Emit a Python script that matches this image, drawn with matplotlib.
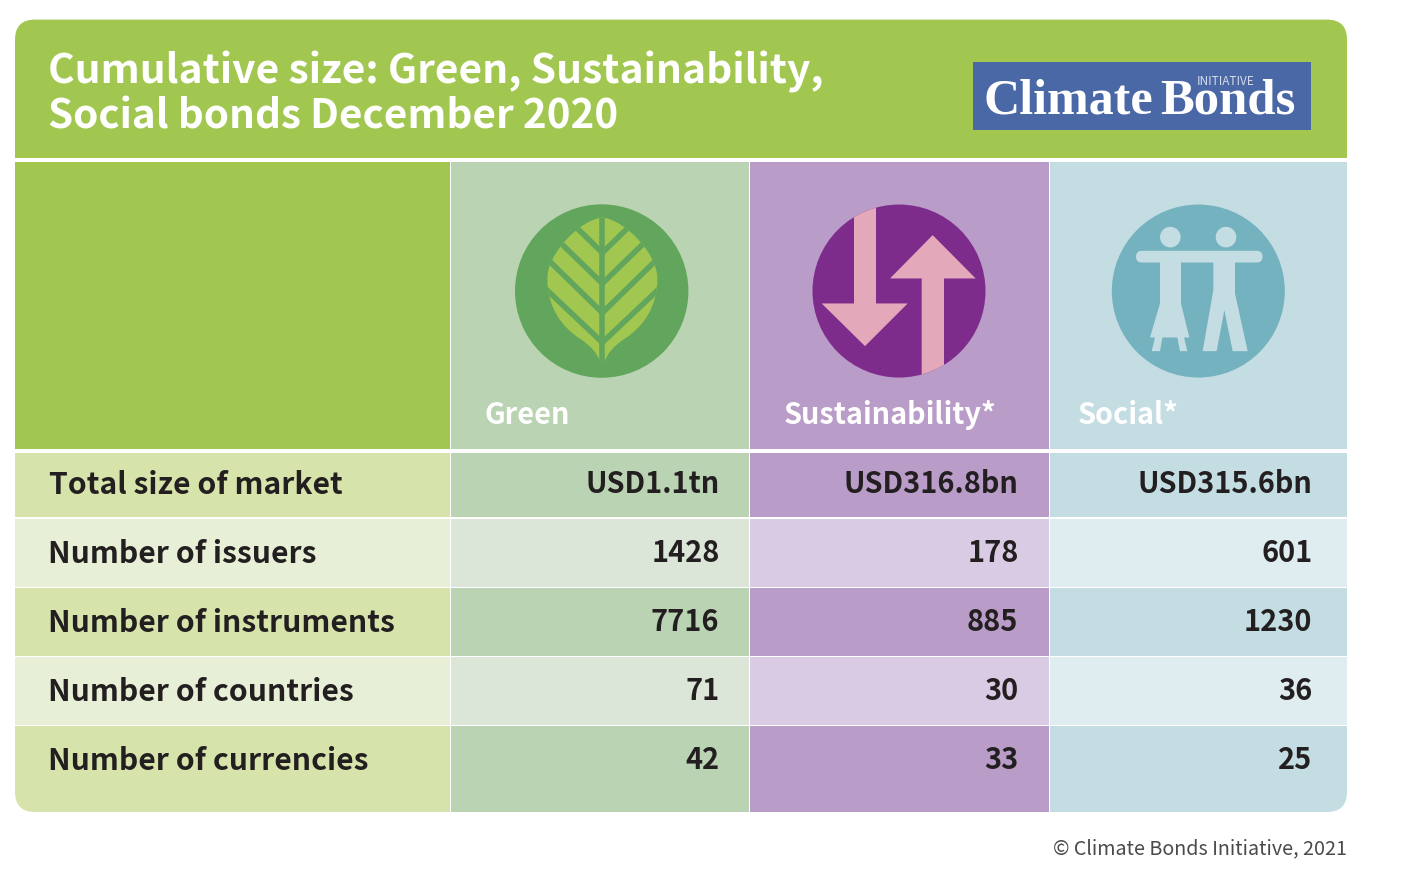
import matplotlib
matplotlib.use('Agg')
import matplotlib.pyplot as plt
from matplotlib.patches import Rectangle, Circle, Polygon, FancyBboxPatch, PathPatch
from matplotlib.path import Path

# ---------------------- Data ---------------------- #

title_lines = ['Cumulative size: Green, Sustainability,', 'Social bonds December 2020']
columns = ['Green', 'Sustainability*', 'Social*']
row_labels = ['Total size of market', 'Number of issuers', 'Number of instruments',
              'Number of countries', 'Number of currencies']
green_values = ['USD1.1tn', '1428', '7716', '71', '42']
sustainability_values = ['USD316.8bn', '178', '885', '30', '33']
social_values = ['USD315.6bn', '601', '1230', '36', '25']
source = '© Climate Bonds Initiative, 2021'

# ---------------------- Layout and colours ---------------------- #

col_edges = [(15, 449.5), (451.2, 748.5), (750, 1048.5), (1050, 1347)]
row_edges = [(452.5, 517.3), (519.2, 586.5), (588, 655.5), (657, 724.5), (726, 812)]
label_baseline = [494, 562.5, 631.5, 700.5, 769.5]
value_baseline = [492.6, 561.6, 630.6, 699.6, 768.6]
value_x = [719.5, 1018.5, 1312.5]
name_x = [484.5, 783.5, 1077.5]
label_x = [49, 47.5, 47.5, 47.5, 47.5]

LIME = '#A2C750'
dark_cols = ['#D6E4AB', '#BAD3B3', '#B99DC8', '#C4DDE2']
light_cols = ['#E7F0D6', '#DBE6D9', '#D9CBE3', '#DFEDF1']
TEXT = '#231F20'
FONT = ['Noto Sans CJK SC', 'DejaVu Sans']

fig = plt.figure(figsize=(14.01, 8.781), dpi=100, facecolor='white')
ax = fig.add_axes([0, 0, 1, 1])
ax.set_xlim(0, 1401)
ax.set_ylim(877.8, -0.2)
ax.axis('off')

# Everything in the card gets clipped to this rounded box
card = FancyBboxPatch((15, 19.5), 1332, 792.3, boxstyle='round,pad=0,rounding_size=20',
                      facecolor='none', edgecolor='none')
ax.add_patch(card)


def cell(x0, y0, x1, y1, color):
    r = Rectangle((x0, y0), x1 - x0, y1 - y0, facecolor=color, edgecolor='none')
    ax.add_patch(r)
    r.set_clip_path(card)


# ---------------------- Table ---------------------- #

cell(15, 19, 1347, 158, LIME)
cell(col_edges[0][0], 162, col_edges[0][1], 448.7, LIME)
for c in range(1, 4):
    cell(col_edges[c][0], 162, col_edges[c][1], 448.7, dark_cols[c])

for r, (y0, y1) in enumerate(row_edges):
    colors = dark_cols if r % 2 == 0 else light_cols
    for c, (x0, x1) in enumerate(col_edges):
        cell(x0, y0, x1, y1, colors[c])

# ---------------------- Icons ---------------------- #

def z(points, ox, oy):
    # icon shapes were measured on 3x crops
    return [(ox + px / 3, oy + py / 3) for px, py in points]


# Leaf
ax.add_patch(Circle((601.7, 290.9), 86.7, facecolor='#62A55C', edgecolor='none'))
o = (500, 190)
leaf_right = [(307, 82), (375, 90), (472, 190), (472, 265), (472, 350), (430, 410), (375, 445),
              (340, 468), (322, 490), (312, 518)]
leaf_left = [(614 - x, y) for x, y in reversed(leaf_right)]
leaf_codes = [Path.MOVETO] + [Path.CURVE4] * 9 + [Path.LINETO] + [Path.CURVE4] * 9 + [Path.CLOSEPOLY]
leaf_verts = z(leaf_right + leaf_left + [(307, 82)], *o)
leaf = PathPatch(Path(leaf_verts, leaf_codes), facecolor=LIME, edgecolor='none')
ax.add_patch(leaf)
veins = [((307, 60), (307, 530)),
         ((307, 188), (220, 103)), ((307, 280), (170, 147)), ((307, 368), (130, 195)), ((307, 457), (125, 285)),
         ((307, 188), (394, 103)), ((307, 280), (444, 147)), ((307, 368), (484, 195)), ((307, 457), (489, 285))]
for a, b in veins:
    line, = ax.plot(*zip(*z([a, b], *o)), color='#62A55C', lw=4, solid_capstyle='butt')
    line.set_clip_path(leaf)

# Arrows
ar_c = Circle((899, 290.9), 86.5, facecolor='#7E2C8C', edgecolor='none')
ax.add_patch(ar_c)
o = (800, 190)
down = [(162, 30), (228, 30), (228, 340), (323, 340), (195, 468), (65, 340), (162, 340)]
up = [(398, 135), (527, 265), (432, 265), (432, 580), (365, 580), (365, 265), (270, 265)]
for shape in (down, up):
    p = Polygon(z(shape, *o), closed=True, facecolor='#E3A9BA', edgecolor='none')
    ax.add_patch(p)
    p.set_clip_path(ar_c)

# People
ax.add_patch(Circle((1198.3, 290.9), 86.5, facecolor='#75B2BF', edgecolor='none'))
o = (1100, 190)
PEOPLE = '#C4DDE2'
for hx in (211, 378):
    ax.add_patch(Circle(z([(hx, 141)], *o)[0], 10.3, facecolor=PEOPLE, edgecolor='none'))
(arm_x, arm_y), = z([(108, 182)], *o)
ax.add_patch(FancyBboxPatch((arm_x, arm_y), 126.5, 11.7, boxstyle='round,pad=0,rounding_size=5.8',
                            facecolor=PEOPLE, edgecolor='none'))
woman = [(180, 210), (243, 210), (243, 340), (268, 442), (252, 442), (262, 483), (240, 483), (232, 442),
         (187, 442), (180, 483), (155, 483), (165, 442), (150, 442), (180, 340)]
man = [(340, 210), (405, 210), (405, 310), (443, 483), (398, 483), (373, 360), (350, 483), (308, 483), (340, 300)]
for shape in (woman, man):
    ax.add_patch(Polygon(z(shape, *o), closed=True, facecolor=PEOPLE, edgecolor='none'))

# ---------------------- Text ---------------------- #

ax.text(48, 83, title_lines[0], color='white', fontsize=29.3, fontweight='bold', family=FONT, va='baseline')
ax.text(48, 128.5, title_lines[1], color='white', fontsize=29.1, fontweight='bold', family=FONT, va='baseline')

for name, x in zip(columns, name_x):
    ax.text(x, 423.5, name, color='white', fontsize=20.8, fontweight='bold', family=FONT, va='baseline')

for r, label in enumerate(row_labels):
    ax.text(label_x[r], label_baseline[r], label, color=TEXT, fontsize=21.7, fontweight='bold', family=FONT,
            va='baseline')

for x, values in zip(value_x, [green_values, sustainability_values, social_values]):
    for r, v in enumerate(values):
        ax.text(x, value_baseline[r], v, color=TEXT, fontsize=20.8, fontweight='bold',
                family=FONT, va='baseline', ha='right')

ax.text(1347, 853.5, source, color='#4A4A4A', fontsize=14.2, family=FONT, va='baseline', ha='right')

# Logo
ax.add_patch(Rectangle((973, 62), 338, 67.5, facecolor='#4A68A5', edgecolor='none'))
ax.text(984, 113, 'Climate', color='white', fontsize=36, fontweight='bold', family='Liberation Serif', va='baseline')
ax.text(1160, 113, 'Bonds', color='white', fontsize=36.5, fontweight='bold', family='Liberation Serif', va='baseline')
ax.text(1197, 81.5, 'INITIATIVE', color='#D5DDEC', fontsize=8.5, family=FONT, va='center')

fig.savefig('out.png', dpi=100, facecolor='white')
